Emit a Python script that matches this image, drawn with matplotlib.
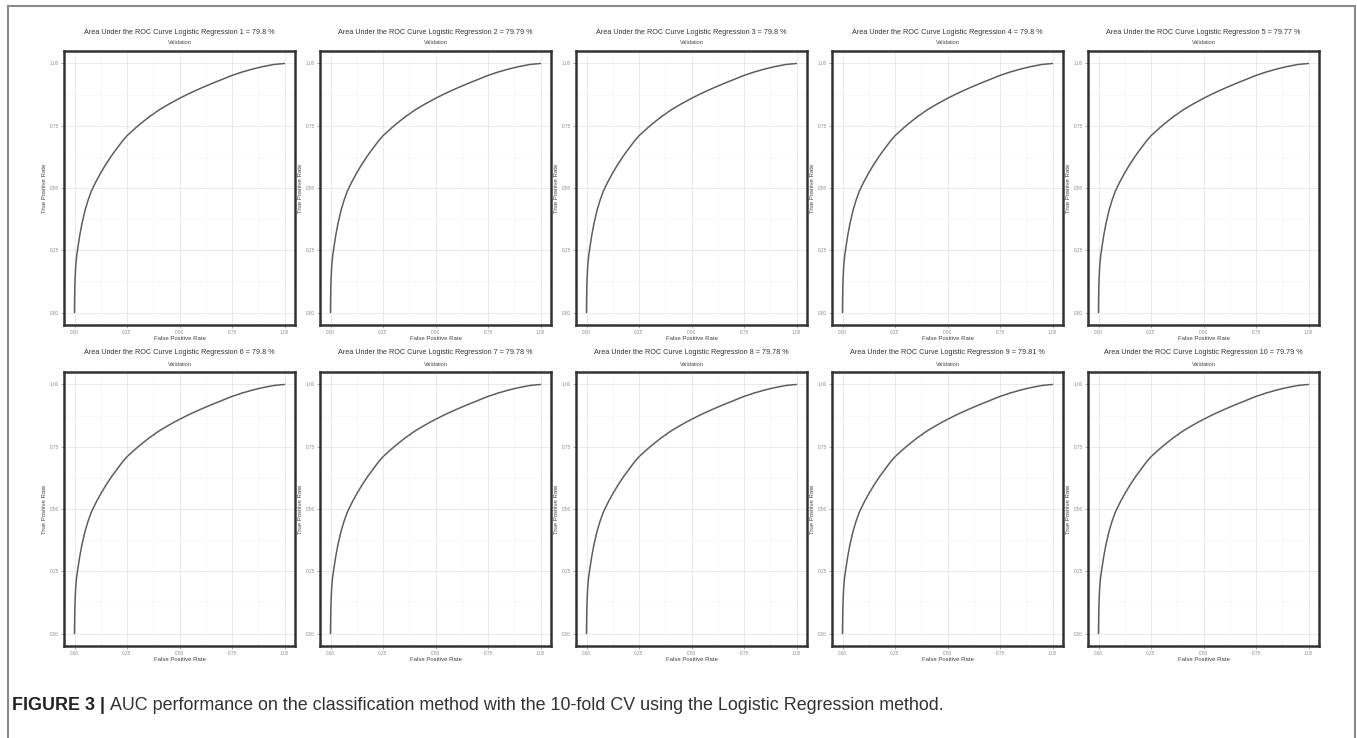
import matplotlib
matplotlib.use("Agg")
import matplotlib.pyplot as plt
from matplotlib.lines import Line2D

# ---- data ----
fold_ids = [1, 2, 3, 4, 5, 6, 7, 8, 9, 10]
auc_values = ["79.8", "79.79", "79.8", "79.8", "79.77", "79.8", "79.78", "79.78", "79.81", "79.79"]
fpr = [0.0, 0.001, 0.003, 0.006, 0.01, 0.016, 0.025, 0.035, 0.05, 0.065, 0.08, 0.1,
       0.125, 0.15, 0.175, 0.2, 0.225, 0.25, 0.3, 0.35, 0.4, 0.45, 0.5, 0.55, 0.6,
       0.65, 0.7, 0.75, 0.8, 0.85, 0.9, 0.95, 1.0]
tpr = [0.0, 0.08, 0.14, 0.19, 0.225, 0.26, 0.31, 0.355, 0.41, 0.452, 0.487, 0.522,
       0.561, 0.596, 0.628, 0.657, 0.685, 0.71, 0.748, 0.782, 0.812, 0.837, 0.86, 0.881, 0.90,
       0.918, 0.935, 0.952, 0.966, 0.978, 0.988, 0.996, 1.0]
tick_vals = [0.0, 0.25, 0.5, 0.75, 1.0]
tick_labels = ["0.00", "0.25", "0.50", "0.75", "1.00"]

W, H = 1357, 738
fig = plt.figure(figsize=(W / 100, H / 100), dpi=100)
plt.rcParams['font.family'] = ['Liberation Sans', 'DejaVu Sans']

# outer frame (left, top, right)
frame_col = "#8a8a8a"
fig.add_artist(Line2D([8 / W, 8 / W], [0, 1 - 6 / H], transform=fig.transFigure, color=frame_col, lw=1.5))
fig.add_artist(Line2D([8 / W, 1355 / W], [1 - 6 / H, 1 - 6 / H], transform=fig.transFigure, color=frame_col, lw=1.5))
fig.add_artist(Line2D([1355 / W, 1355 / W], [0, 1 - 6 / H], transform=fig.transFigure, color=frame_col, lw=1.5))

ax_w, ax_h = 231, 274
lefts = [64 + 256 * i for i in range(5)]
tops = [51, 372]

for idx, (fid, auc) in enumerate(zip(fold_ids, auc_values)):
    r, c = divmod(idx, 5)
    l = lefts[c]
    t = tops[r]
    ax = fig.add_axes([l / W, 1 - (t + ax_h) / H, ax_w / W, ax_h / H])
    ax.plot(fpr, tpr, color="#5e5e5e", lw=1.1, solid_capstyle="round", solid_joinstyle="round")
    ax.set_xlim(-0.05, 1.05)
    ax.set_ylim(-0.05, 1.05)
    ax.set_xticks(tick_vals)
    ax.set_xticklabels(tick_labels)
    ax.set_yticks(tick_vals)
    ax.set_yticklabels(tick_labels)
    ax.set_xticks([0.125, 0.375, 0.625, 0.875], minor=True)
    ax.set_yticks([0.125, 0.375, 0.625, 0.875], minor=True)
    ax.grid(True, which="major", color="#e6e6e6", lw=0.6)
    ax.grid(True, which="minor", color="#f4f4f4", lw=0.4)
    ax.set_axisbelow(True)
    ax.tick_params(which="major", labelsize=3.4, colors="#8c8c8c", length=2, width=0.5, pad=1.5)
    ax.tick_params(which="minor", length=0)
    for sp in ax.spines.values():
        sp.set_color("#333333")
        sp.set_linewidth(1.8)
    ax.set_xlabel("False Positive Rate", fontsize=4.3, color="#444444", labelpad=1)
    ax.set_ylabel("True Positive Rate", fontsize=4.3, color="#444444")
    ax.yaxis.set_label_coords(-0.072, 0.5)
    cx = (l + ax_w / 2) / W
    fig.text(cx, 1 - (t - 19) / H, f"Area Under the ROC Curve Logistic Regression {fid} = {auc} %",
             ha="center", va="center", fontsize=5.2, color="#333333")
    fig.text(cx, 1 - (t - 8) / H, "Validation", ha="center", va="center", fontsize=4.0, color="#444444")

cap_y = 1 - 706 / H
cap1 = fig.text(12 / W, cap_y, "FIGURE 3 | ", ha="left", va="center", fontsize=12.9,
                fontweight="bold", color="#222222")
fig.canvas.draw()
bb = cap1.get_window_extent()
fig.text(bb.x1 / W, cap_y,
         "AUC performance on the classification method with the 10-fold CV using the Logistic Regression method.",
         ha="left", va="center", fontsize=12.9, color="#333333")

fig.savefig("out.png", dpi=100)
